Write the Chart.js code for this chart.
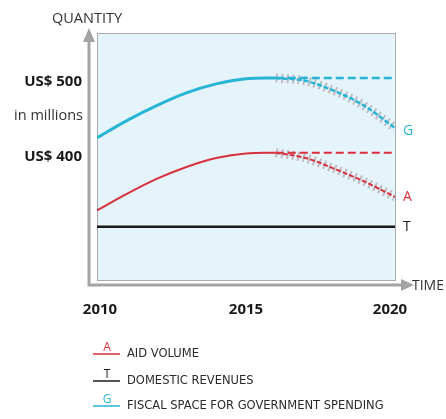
<!DOCTYPE html>
<html>
<head>
<meta charset="utf-8">
<script src="https://cdn.jsdelivr.net/npm/chart.js@4.4.1/dist/chart.umd.min.js"></script>
<style>
    html, body { margin: 0; padding: 0; background: #fff; }
    #wrap { width: 446px; height: 419px; position: relative; }
</style>
</head>
<body>
<div id="wrap"><canvas id="aid_chart"></canvas></div>
<script>
'use strict';

// values (US$ millions)
var riseYears = [2010, 2011, 2012, 2013, 2014, 2015, 2016];
var fiscalRise = [420, 443, 463, 480, 492, 499, 500];
var aidRise = [323, 345, 365, 381, 393, 399, 400];

var flatYears = [2016, 2020];
var fiscalFlat = [500, 500];
var aidFlat = [400, 400];

var declineYears = [2016, 2017, 2018, 2019, 2020];
var fiscalDecline = [500, 496, 482, 462, 433];
var aidDecline = [400, 393, 378, 361, 341];

var revenueYears = [2010, 2020];
var revenue = [301, 301];

var xTicks = [2010, 2015, 2020];
var yTickValues = [500, 400];
var yTickLabels = ['US$ 500', 'US$ 400'];

var legendLetters = ['A', 'T', 'G'];
var legendLabels = ['AID VOLUME', 'DOMESTIC REVENUES', 'FISCAL SPACE FOR GOVERNMENT SPENDING'];

var CYAN = '#27b5d6';
var RED = '#d8303c';
var BLACK = '#1b1b1b';
var HATCH = 'rgba(188,180,188,0.9)';
var legendColors = [RED, BLACK, CYAN];

function pts(xs, ys) {
    return xs.map(function (x, i) { return { x: x, y: ys[i] }; });
}

function line(data, color, width, dash, order) {
    return {
        data: data,
        borderColor: color,
        borderWidth: width,
        borderDash: dash || [],
        pointRadius: 0,
        fill: false,
        cubicInterpolationMode: 'monotone',
        order: order || 0
    };
}

var decorations = {
    id: 'decorations',
    beforeDatasetsDraw: function (chart) {
        var ctx = chart.ctx;
        var a = chart.chartArea;
        ctx.save();
        // plot box
        ctx.fillStyle = '#e5f3fb';
        ctx.fillRect(a.left, a.top, a.right - a.left, a.bottom - a.top);
        ctx.strokeStyle = '#a7adb3';
        ctx.lineWidth = 1;
        ctx.strokeRect(a.left + 0.5, a.top + 0.5, a.right - a.left, a.bottom - a.top);
        ctx.restore();
    },
    afterDraw: function (chart) {
        var ctx = chart.ctx;
        var a = chart.chartArea;
        var xs = chart.scales.x;
        var ys = chart.scales.y;
        ctx.save();

        // outer axes with arrows
        var ox = a.left - 8, oy = a.bottom + 5;
        ctx.strokeStyle = '#a3a3a3';
        ctx.fillStyle = '#a3a3a3';
        ctx.lineWidth = 3;
        ctx.beginPath();
        ctx.moveTo(ox, 40);
        ctx.lineTo(ox, oy);
        ctx.lineTo(404, oy);
        ctx.stroke();
        ctx.beginPath();
        ctx.moveTo(ox, 28);
        ctx.lineTo(ox - 6, 42);
        ctx.lineTo(ox + 6, 42);
        ctx.closePath();
        ctx.fill();
        ctx.beginPath();
        ctx.moveTo(414, oy);
        ctx.lineTo(401, oy - 6);
        ctx.lineTo(401, oy + 6);
        ctx.closePath();
        ctx.fill();

        ctx.fillStyle = '#333';
        ctx.font = '14.5px "Open Sans"';
        ctx.textBaseline = 'middle';
        ctx.textAlign = 'left';
        ctx.fillText('QUANTITY', 52, 19);
        ctx.font = '14px "Open Sans"';
        ctx.fillText('TIME', 412, 286);

        // y tick labels
        ctx.textAlign = 'right';
        ctx.fillStyle = '#1a1a1a';
        ctx.font = 'bold 15px "Open Sans"';
        yTickValues.forEach(function (v, i) {
            ctx.fillText(yTickLabels[i], 82, ys.getPixelForValue(v) + 4);
        });
        ctx.font = '14.5px "Open Sans"';
        ctx.fillStyle = '#333';
        ctx.fillText('in millions', 83, 116);

        // x tick labels
        ctx.textAlign = 'center';
        ctx.fillStyle = '#1a1a1a';
        ctx.font = 'bold 15px "Open Sans"';
        xTicks.forEach(function (v) {
            var px = xs.getPixelForValue(v);
            if (v === xTicks[0]) px += 3;
            if (v === xTicks[xTicks.length - 1]) px -= 5;
            ctx.fillText(String(v), px, 310);
        });

        // end labels
        ctx.textAlign = 'left';
        ctx.font = '14px "Open Sans"';
        ctx.fillStyle = CYAN;
        ctx.fillText('G', a.right + 8, ys.getPixelForValue(fiscalDecline[fiscalDecline.length - 1]) + 3);
        ctx.fillStyle = RED;
        ctx.fillText('A', a.right + 8, ys.getPixelForValue(aidDecline[aidDecline.length - 1]));
        ctx.fillStyle = BLACK;
        ctx.fillText('T', a.right + 8, ys.getPixelForValue(revenue[0]));

        // legend
        var rowY = [354, 381, 406];
        legendLabels.forEach(function (label, i) {
            var y = rowY[i];
            ctx.strokeStyle = legendColors[i];
            ctx.lineWidth = 1.5;
            ctx.beginPath();
            ctx.moveTo(93, y);
            ctx.lineTo(120, y);
            ctx.stroke();
            ctx.fillStyle = legendColors[i];
            ctx.textAlign = 'center';
            ctx.font = '12px "Open Sans"';
            ctx.fillText(legendLetters[i], 107, y - 6);
            ctx.fillStyle = '#2a2a2a';
            ctx.textAlign = 'left';
            ctx.font = '12.8px "Liberation Sans Narrow", "DejaVu Sans Condensed", sans-serif';
            ctx.fillText(label, 127, y);
        });
        ctx.restore();
    }
};

var ctx = document.getElementById('aid_chart').getContext('2d');
new Chart(ctx, {
    type: 'line',
    data: {
        datasets: [
            line(pts(declineYears, fiscalDecline), HATCH, 9, [2, 3.5], 5),
            line(pts(declineYears, aidDecline), HATCH, 9, [2, 3.5], 5),
            line(pts(riseYears, fiscalRise), CYAN, 3),
            line(pts(flatYears, fiscalFlat), CYAN, 2.5, [8, 4]),
            line(pts(declineYears, fiscalDecline), CYAN, 2.5, [5, 2]),
            line(pts(riseYears, aidRise), RED, 2),
            line(pts(flatYears, aidFlat), RED, 2, [8, 4]),
            line(pts(declineYears, aidDecline), RED, 2, [5, 2]),
            line(pts(revenueYears, revenue), BLACK, 2.5)
        ]
    },
    options: {
        animation: false,
        responsive: true,
        maintainAspectRatio: false,
        layout: {
            padding: { left: 97, right: 51, top: 33, bottom: 139 }
        },
        plugins: {
            legend: { display: false },
            tooltip: { enabled: false }
        },
        scales: {
            x: { type: 'linear', min: 2010, max: 2020, display: false },
            y: { type: 'linear', min: 230, max: 560, display: false }
        }
    },
    plugins: [decorations]
});
</script>
</body>
</html>
